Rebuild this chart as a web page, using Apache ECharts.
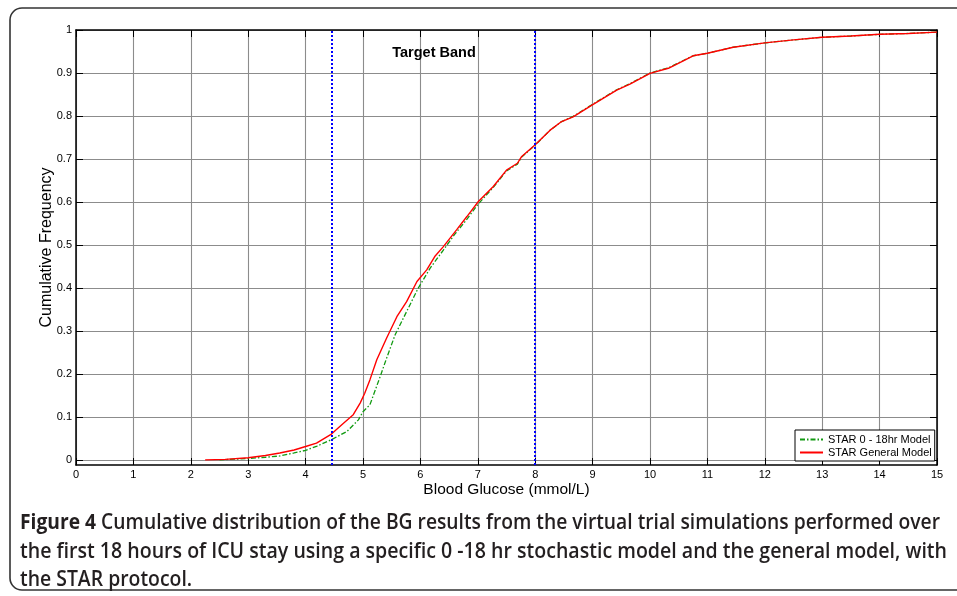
<!DOCTYPE html>
<html>
<head>
<meta charset="utf-8">
<script src="https://cdn.jsdelivr.net/npm/echarts@6/dist/echarts.min.js"></script>
<style>
html,body{margin:0;padding:0;background:#fff;}
#chart{width:957px;height:596px;}
</style>
</head>
<body>
<div id="chart"></div>
<script>
// ---- Data ----
var xTicks = [0,1,2,3,4,5,6,7,8,9,10,11,12,13,14,15];
var yTicks = [0,0.1,0.2,0.3,0.4,0.5,0.6,0.7,0.8,0.9,1];
var targetBand = [4.45, 8.0];

var generalX = [2.25,2.6,3.0,3.3,3.55,3.8,4.0,4.19,4.45,4.66,4.83,4.95,5.03,5.12,5.24,5.41,5.59,5.76,5.94,6.11,6.25,6.40,6.63,6.81,7.01,7.27,7.50,7.69,7.76,8.0,8.26,8.46,8.66,9.01,9.42,9.65,10.0,10.32,10.58,10.75,11.0,11.45,12.0,12.5,13.0,13.5,14.0,14.5,15.0];
var generalY = [0,0.001,0.005,0.010,0.016,0.023,0.031,0.039,0.060,0.085,0.105,0.132,0.155,0.186,0.233,0.283,0.333,0.368,0.415,0.442,0.473,0.496,0.535,0.566,0.601,0.636,0.674,0.690,0.705,0.733,0.767,0.787,0.798,0.827,0.860,0.874,0.899,0.911,0.928,0.940,0.946,0.960,0.970,0.977,0.983,0.986,0.990,0.992,0.995];

var specificX = [2.5,3.0,3.3,3.55,3.8,4.0,4.2,4.45,4.72,4.92,5.0,5.12,5.30,5.41,5.56,5.76,5.96,6.17,6.40,6.6,6.8,7.0,7.27,7.50,7.69,7.76,8.0,8.26,8.46,8.66,9.01,9.42,9.65,10.0,10.32,10.58,10.75,11.0,11.45,12.0,12.5,13.0,13.5,14.0,14.5,15.0];
var specificY = [0,0.003,0.006,0.009,0.016,0.022,0.032,0.047,0.066,0.093,0.112,0.128,0.194,0.236,0.291,0.345,0.399,0.446,0.488,0.525,0.558,0.594,0.634,0.672,0.688,0.704,0.732,0.767,0.787,0.799,0.828,0.861,0.875,0.900,0.912,0.929,0.940,0.946,0.960,0.970,0.977,0.983,0.986,0.990,0.992,0.995];

var captionLines = [
  ['Figure 4', ' Cumulative distribution of the BG results from the virtual trial simulations performed over'],
  ['', 'the first 18 hours of ICU stay using a specific 0 -18 hr stochastic model and the general model, with'],
  ['', 'the STAR protocol.']
];

function zip(a, b) { return a.map(function (v, i) { return [v, b[i]]; }); }

var FONT = '"Liberation Sans", Arial, Helvetica, sans-serif';
var CAPFONT = '"Open Sans", "Liberation Sans", sans-serif';

// measure caption widths for horizontal condensation
var ctx = document.createElement('canvas').getContext('2d');
function measure(txt, weight, size) {
  ctx.font = weight + ' ' + size + 'px ' + CAPFONT;
  return ctx.measureText(txt).width;
}
var capSize = 21;
var targetW = [920, 927];
var scales = [0, 1].map(function (i) {
  var w = measure(captionLines[i][0], 700, capSize) + measure(captionLines[i][1], 600, capSize);
  return targetW[i] / w;
});
var capScale = (scales[0] + scales[1]) / 2;
var capY = [523, 552, 580];

var graphics = [{
  type: 'rect', silent: true, z: 0,
  shape: { x: 10, y: 8, width: 1000, height: 582, r: 12 },
  style: { fill: 'none', stroke: '#333', lineWidth: 1.6 }
}, {
  type: 'text', x: 434, y: 53, z: 100,
  style: { text: 'Target Band', font: 'bold 14.5px ' + FONT, fill: '#000', align: 'center', verticalAlign: 'middle' }
}];
captionLines.forEach(function (ln, i) {
  var s = i < 2 ? scales[i] : capScale;
  graphics.push({
    type: 'text', x: 20, y: capY[i], scaleX: s, originX: 0, originY: 0,
    style: {
      text: (ln[0] ? '{b|' + ln[0] + '}' : '') + ln[1],
      font: '600 ' + capSize + 'px ' + CAPFONT,
      fill: '#231f20',
      verticalAlign: 'middle',
      rich: { b: { fontFamily: CAPFONT, fontWeight: 700, fontSize: capSize, fill: '#231f20' } }
    }
  });
});

var yMin = -0.012;
var chart = echarts.init(document.getElementById('chart'), null, { renderer: 'canvas' });
chart.setOption({
  animation: false,
  backgroundColor: '#fff',
  textStyle: { fontFamily: FONT },
  grid: { left: 76, right: 20, top: 30, bottom: 131, show: false },
  legend: {
    orient: 'vertical', left: 795, top: 430,
    itemWidth: 23, itemHeight: 11, itemGap: 2,
    padding: [4, 3, 3, 4],
    borderColor: '#000', borderWidth: 1, backgroundColor: '#fff',
    textStyle: { fontSize: 11, color: '#000', fontFamily: FONT },
    itemStyle: { opacity: 0, borderWidth: 0 },
    data: ['STAR 0 - 18hr Model', 'STAR General Model'],
    z: 50
  },
  xAxis: [{
    type: 'value', min: 0, max: 15, interval: 1, position: 'bottom',
    name: 'Blood Glucose (mmol/L)', nameLocation: 'middle', nameGap: 17, nameMoveOverlap: false,
    nameTextStyle: { fontSize: 15.5, color: '#000', fontFamily: FONT },
    axisLine: { onZero: false, lineStyle: { color: '#000', width: 1.5 } },
    axisTick: { inside: true, length: 7, lineStyle: { color: '#000', width: 1 } },
    axisLabel: { fontSize: 11, color: '#000', margin: 4 },
    splitLine: { show: true, lineStyle: { color: '#8c8c8c', width: 1.1 } }
  }, {
    type: 'value', min: 0, max: 15, interval: 1, position: 'top',
    axisLine: { onZero: false, lineStyle: { color: '#000', width: 1.5 } },
    axisTick: { inside: true, length: 7, lineStyle: { color: '#000', width: 1 } },
    axisLabel: { show: false }, splitLine: { show: false }
  }],
  yAxis: [{
    type: 'value', min: yMin, max: 1, position: 'left',
    name: 'Cumulative Frequency', nameLocation: 'middle', nameGap: 21, nameRotate: 90, nameMoveOverlap: false,
    nameTextStyle: { fontSize: 16, color: '#000', fontFamily: FONT },
    axisLine: { onZero: false, lineStyle: { color: '#000', width: 1.5 } },
    axisTick: { inside: true, length: 7, customValues: yTicks, lineStyle: { color: '#000', width: 1 } },
    axisLabel: { fontSize: 11, color: '#000', margin: 4, customValues: yTicks,
      formatter: function (v) { return String(Math.round(v * 10) / 10); } },
    splitLine: { show: true, lineStyle: { color: '#8c8c8c', width: 1.1 } }
  }, {
    type: 'value', min: yMin, max: 1, position: 'right',
    axisLine: { onZero: false, lineStyle: { color: '#000', width: 1.5 } },
    axisTick: { inside: true, length: 7, customValues: yTicks, lineStyle: { color: '#000', width: 1 } },
    axisLabel: { show: false, customValues: yTicks }, splitLine: { show: false }
  }],
  series: [{
    name: 'STAR 0 - 18hr Model', type: 'line', symbol: 'none', showSymbol: false,
    xAxisIndex: 0, yAxisIndex: 0,
    data: zip(specificX, specificY),
    lineStyle: { color: '#129a12', width: 1.3, type: [5, 2, 1.5, 2] },
    itemStyle: { color: '#129a12' },
    z: 3
  }, {
    name: 'STAR General Model', type: 'line', symbol: 'none', showSymbol: false,
    xAxisIndex: 0, yAxisIndex: 0,
    data: zip(generalX, generalY),
    lineStyle: { color: '#ff0000', width: 1.4 },
    itemStyle: { color: '#ff0000' },
    z: 4,
    markLine: {
      silent: true, symbol: 'none', label: { show: false },
      lineStyle: { color: '#0000ff', width: 2, type: [2, 2] },
      data: targetBand.map(function (v) { return { xAxis: v }; })
    }
  }],
  graphic: graphics
});
</script>
</body>
</html>
